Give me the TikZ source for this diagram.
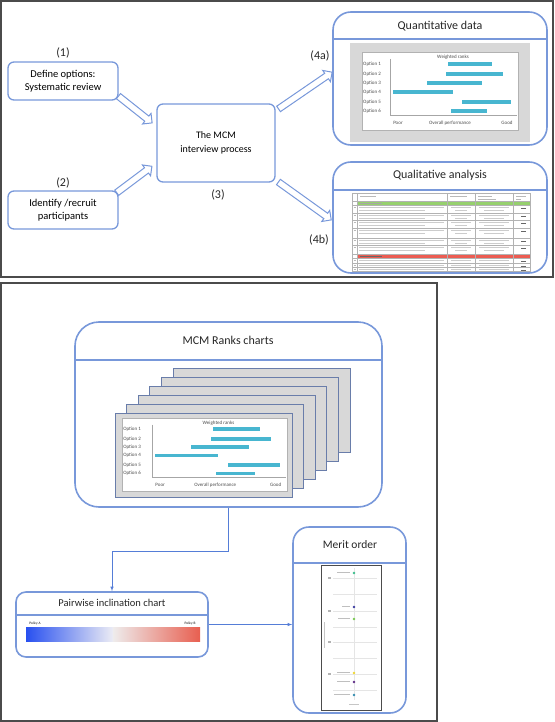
\documentclass[tikz,border=0pt]{standalone}
\usepackage{fontspec}
\setmainfont{Carlito}
\usepackage{tikz}
\usetikzlibrary{shapes.arrows}

\definecolor{boxblue}{RGB}{120,152,218}
\definecolor{panelgray}{RGB}{75,75,75}
\definecolor{barteal}{RGB}{72,182,208}
\definecolor{cardgray}{RGB}{216,216,216}
\definecolor{cardedge}{RGB}{105,125,170}
\definecolor{linkblue}{RGB}{85,125,215}
\definecolor{polblue}{RGB}{40,80,240}
\definecolor{polred}{RGB}{232,95,80}
\definecolor{tabgreen}{RGB}{150,208,110}
\definecolor{tabred}{RGB}{236,92,82}
\definecolor{ptteal}{RGB}{60,190,140}
\definecolor{ptnavy}{RGB}{60,60,160}
\definecolor{ptgreen}{RGB}{120,200,80}
\definecolor{ptyellow}{RGB}{240,215,50}
\definecolor{ptpurple}{RGB}{95,45,135}
\definecolor{ptblue}{RGB}{50,140,175}

\tikzset{
  smallbox/.style={draw=boxblue, line width=1.3pt, rounded corners=6pt, align=center,
    font=\fontsize{10.5}{13}\selectfont, inner sep=0pt},
  bigbox/.style={draw=boxblue, line width=1.6pt, rounded corners=#1, inner sep=0pt},
  hollowarrow/.style={single arrow, draw=boxblue, fill=white, line width=1pt, inner sep=2.8pt,
    single arrow head extend=3.5pt, minimum height=#1, sloped},
  steplbl/.style={font=\fontsize{12}{14}\selectfont, text=black!85},
  titlelbl/.style={font=\fontsize{12}{14}\selectfont, text=black!85},
  chartlbl/.style={font=\fontsize{5}{6}\selectfont, text=black!70, inner sep=0pt},
  scribble/.style={gray!55, line width=0.6pt},
  gridline/.style={gray!60, line width=0.3pt},
  link/.style={draw=linkblue, line width=0.6pt, -latex},
}

% one ranks chart, origin = top left of the white plot area
\newcommand{\rankchart}{%
  \node[chartlbl] (wr) at (91,5) {Weighted ranks};
  \foreach \n/\y/\a/\b in {1/12/86/130, 2/22/84/141, 3/31/65/120, 4/40/31/91, 5/50/100/149, 6/59/89/125}{
    \node[chartlbl, anchor=west] (opt\n) at (1,\y) {Option \n};
    \fill[barteal] (\a,\y-2) rectangle (\b,\y+2);
  }
  \draw[gray!70, line width=0.3pt] (28,7) -- (28,63) -- (155,63);
  \node[chartlbl] (poor) at (36,71) {Poor};
  \node[chartlbl] (overall) at (88,71) {Overall performance};
  \node[chartlbl] (good) at (145,71) {Good};
}

\begin{document}
\begin{tikzpicture}[x=1pt, y=-1pt]
\useasboundingbox (0,0) rectangle (554,722);

% panels
\draw[panelgray, line width=1.5pt] (1,1) rectangle (553,277);
\draw[panelgray, line width=1.5pt] (1,283) rectangle (437,721);

% ---------- top panel ----------
\node[smallbox, minimum width=110pt, minimum height=38pt] (def) at (63,81) {Define options:\\Systematic review};
\node[smallbox, minimum width=110pt, minimum height=38pt] (idr) at (63,210) {Identify /recruit\\participants};
\node[smallbox, minimum width=118pt, minimum height=78pt, font=\fontsize{10}{14}\selectfont] (mcm) at (216,143) {The MCM\\interview process};
\node[steplbl] (s1) at (63,53) {(1)};
\node[steplbl] (s2) at (63,183) {(2)};
\node[steplbl] (s3) at (218,195) {(3)};
\node[steplbl] (s4a) at (320,56) {(4a)};
\node[steplbl] (s4b) at (319,240) {(4b)};

\coordinate (a1s) at (117,95);  \coordinate (a1e) at (151,122);
\coordinate (a2s) at (115,194); \coordinate (a2e) at (151,167);
\coordinate (a3s) at (277,110); \coordinate (a3e) at (331,73);
\coordinate (a4s) at (277,181); \coordinate (a4e) at (330,219);
\path (a1s) -- node[hollowarrow=43pt] (arr1) {} (a1e);
\path (a2s) -- node[hollowarrow=44pt] (arr2) {} (a2e);
\path (a3s) -- node[hollowarrow=65pt] (arr3) {} (a3e);
\path (a4s) -- node[hollowarrow=65pt] (arr4) {} (a4e);

% quantitative data
\node[bigbox=18pt, minimum width=214pt, minimum height=133pt] (quant) at (440,78.5) {};
\draw[boxblue, line width=1.6pt] (quant.west |- 0,39) -- (quant.east |- 0,39);
\node[titlelbl] (quanttitle) at (440,26) {Quantitative data};
\fill[cardgray] (350,43) rectangle (530,142);
\draw[fill=white, draw=gray!60, line width=0.3pt] (362,52) rectangle (518,130);
\begin{scope}[shift={(362,52)}]
  \rankchart
\end{scope}

% qualitative analysis
\node[bigbox=18pt, minimum width=214pt, minimum height=111pt] (qual) at (440,217.5) {};
\draw[boxblue, line width=1.6pt] (qual.west |- 0,190) -- (qual.east |- 0,190);
\node[titlelbl] (qualtitle) at (440,175) {Qualitative analysis};
\fill[tabgreen] (357,201) rectangle (530,205);
\fill[tabred] (357,254) rectangle (530,258);
\draw[gridline] (352,193) rectangle (530,271);
\foreach \y in {201,205,213,220,228,238,245,254,258,263,267}
  \draw[gridline] (352,\y) -- (530,\y);
\foreach \x in {357,447,475,513}
  \draw[gridline] (\x,193) -- (\x,271);
% header and section rows
\draw[scribble] (360,196) -- (376,196);
\draw[scribble] (450,196) -- (467,196);
\draw[scribble] (478,196) -- (492,196) (478,199) -- (496,199);
\draw[scribble] (516,196) -- (526,196) (516,199) -- (521,199);
\draw[gray!70, line width=0.6pt] (360,203) -- (382,203);
\draw[black!60, line width=0.6pt] (360,256) -- (382,256);
% table body
\foreach \t/\h in {205/8, 213/7, 220/8, 228/10, 238/7, 245/9, 258/5, 263/4, 267/4}{
  \draw[scribble] (353.5,\t+2.5) -- (355.5,\t+2.5);
  \draw[scribble, gray!40] (359,\t+2.2) -- (444,\t+2.2);
  \draw[scribble, gray!40] (451,\t+2.2) -- (471,\t+2.2);
  \draw[scribble, gray!40] (479,\t+2.2) -- (509,\t+2.2);
  \draw[black!60, line width=0.7pt] (521,\t+3) -- (526,\t+3);
  \ifnum\h>6
    \draw[scribble, gray!40] (359,\t+4.8) -- (425,\t+4.8);
    \draw[scribble, gray!40] (455,\t+4.8) -- (467,\t+4.8);
    \draw[scribble, gray!40] (484,\t+4.8) -- (504,\t+4.8);
  \fi
}

% ---------- bottom panel ----------
\node[bigbox=24pt, minimum width=307pt, minimum height=185pt] (ranks) at (228.5,414.5) {};
\draw[boxblue, line width=1.6pt] (ranks.west |- 0,360) -- (ranks.east |- 0,360);
\node[titlelbl] (rankstitle) at (228,340) {MCM Ranks charts};
\foreach \i in {5,...,0}
  \draw[fill=cardgray, draw=cardedge, line width=0.8pt] ({115+11.6*\i},{413-9*\i}) rectangle ++(177,84);
\draw[fill=white, draw=gray!60, line width=0.3pt] (122,418) rectangle (287,491);
\begin{scope}[shift={(122,418)}, xscale=1.06, yscale=0.94]
  \rankchart
\end{scope}

% pairwise inclination chart
\node[bigbox=10pt, minimum width=192pt, minimum height=65pt] (pair) at (112,624.5) {};
\draw[boxblue, line width=1.6pt] (pair.west |- 0,615) -- (pair.east |- 0,615);
\node[font=\fontsize{10.5}{12}\selectfont, text=black!85] (pairtitle) at (112,603) {Pairwise inclination chart};
\shade[left color=polblue, right color={rgb,255:red,236;green,236;blue,244}] (26,627) rectangle (113,641);
\shade[left color={rgb,255:red,238;green,236;blue,236}, right color=polred] (113,627) rectangle (200,641);
\node[font=\fontsize{3.5}{4}\selectfont, inner sep=0pt] (pola) at (35,623.5) {Policy A};
\node[font=\fontsize{3.5}{4}\selectfont, inner sep=0pt] (polb) at (190,623.5) {Policy B};

% merit order
\node[bigbox=16pt, minimum width=113pt, minimum height=186pt] (merit) at (349.5,620) {};
\draw[boxblue, line width=1.6pt] (merit.west |- 0,563) -- (merit.east |- 0,563);
\node[font=\fontsize{11.5}{13}\selectfont, text=black!85] (merittitle) at (350,545) {Merit order};
\draw[fill=white, draw=black!70, line width=0.8pt] (321,565) rectangle (381,710);
\foreach \y in {578,594,611,627,642,658,674,690}
  \draw[gray!20, line width=0.3pt] (333,\y) -- (377,\y);
\draw[gray!20, line width=0.3pt] (354,568) -- (354,700);
\foreach \y in {578,611,642,674}
  \fill[gray!60] (328,\y-0.7) rectangle (330.5,\y+0.7);
\draw[scribble, gray!45] (324,622) -- (324,648);
\draw[scribble, gray!45] (349,704) -- (359,704);
\foreach \y/\c/\w in {573/ptteal/13, 607/ptnavy/8, 619/ptgreen/12, 673/ptyellow/13, 682/ptpurple/13, 695/ptblue/16}{
  \fill[\c] (354,\y) circle[radius=1.3pt];
  \draw[scribble, gray!50] ({350-\w},\y-1) -- (350,\y-1);
}

% connectors
\draw[link] (ranks.south) -- ++(0,43) -| (pair.north);
\draw[link] (pair.east) -- (merit.west |- pair.east);
\end{tikzpicture}
\end{document}
